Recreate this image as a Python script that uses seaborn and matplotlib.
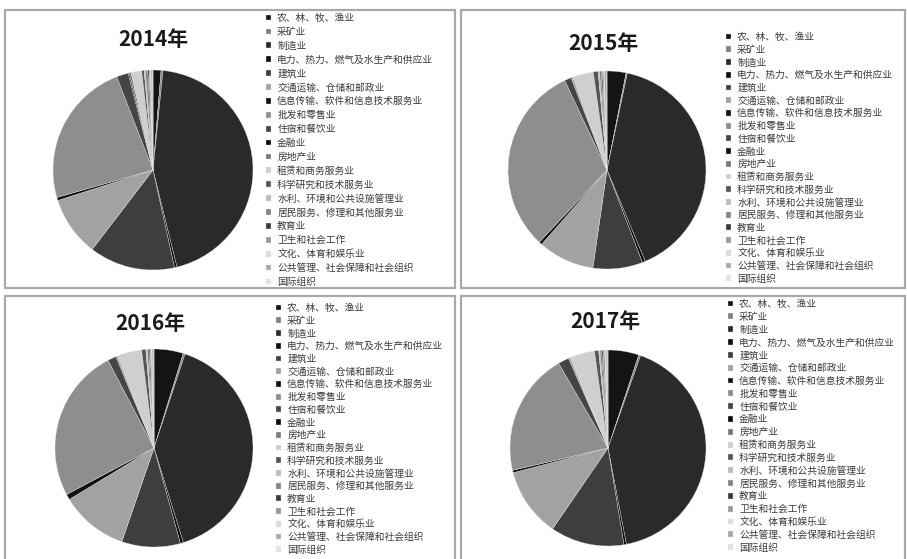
import matplotlib
matplotlib.use("Agg")
import matplotlib.pyplot as plt
from matplotlib.patches import Rectangle
import seaborn as sns

sns.set_theme(style="white")
plt.rcParams['font.family'] = ['Noto Sans CJK SC', 'DejaVu Sans']

# Industry categories (national economy classification)
industries = [
    "农、林、牧、渔业",
    "采矿业",
    "制造业",
    "电力、热力、燃气及水生产和供应业",
    "建筑业",
    "交通运输、仓储和邮政业",
    "信息传输、软件和信息技术服务业",
    "批发和零售业",
    "住宿和餐饮业",
    "金融业",
    "房地产业",
    "租赁和商务服务业",
    "科学研究和技术服务业",
    "水利、环境和公共设施管理业",
    "居民服务、修理和其他服务业",
    "教育业",
    "卫生和社会工作",
    "文化、体育和娱乐业",
    "公共管理、社会保障和社会组织",
    "国际组织",
]

years = ["2014年", "2015年", "2016年", "2017年"]

# Share of each industry (%)
share_2014 = [1.3, 0.3, 44.7, 0.4, 13.9, 9.7, 0.5, 23.6, 1.9, 0.2,
              0.3, 1.7, 0.4, 0.2, 0.4, 0.2, 0.2, 0.1, 0.3, 0.02]
share_2015 = [3.1, 0.2, 40.4, 0.5, 8.1, 9.2, 0.5, 31.0, 1.1, 0.1,
              0.2, 3.4, 0.8, 0.2, 0.3, 0.2, 0.2, 0.1, 0.4, 0.02]
share_2016 = [4.8, 0.3, 40.3, 0.5, 9.6, 11.1, 0.9, 25.2, 1.4, 0.1,
              0.2, 4.0, 0.7, 0.2, 0.3, 0.2, 0.2, 0.1, 0.3, 0.02]
share_2017 = [5.1, 0.3, 41.7, 0.4, 12.2, 11.4, 0.4, 20.3, 1.8, 0.1,
              0.2, 4.1, 0.7, 0.2, 0.3, 0.2, 0.3, 0.2, 0.3, 0.02]

shares = [share_2014, share_2015, share_2016, share_2017]

# Grayscale fill per industry
grays = [
    "#141414", "#808080", "#2a2a2a", "#0e0e0e", "#3e3e3e",
    "#a2a2a2", "#101010", "#8e8e8e", "#454545", "#0c0c0c",
    "#7a7a7a", "#cfcfcf", "#555555", "#bcbcbc", "#858585",
    "#3a3a3a", "#989898", "#dcdcdc", "#a8a8a8", "#e2e2e2",
]
palette = sns.color_palette(grays)

W, H = 907, 559
fig = plt.figure(figsize=(W / 100, H / 100), dpi=100)
fig.patch.set_facecolor("white")

# Panel layout in pixels: box (x0, y0, x1, y1), pie centre & radius,
# title centre, legend top-left and row spacing
panels = [
    dict(box=(5, 10, 455, 288), pie=(153, 170, 101), title=(153, 40), leg=(266, 13), sp=0.40),
    dict(box=(461, 10, 905, 288), pie=(607, 170, 100), title=(603, 43), leg=(726, 32), sp=0.28),
    dict(box=(5, 296, 455, 575), pie=(154, 448, 100), title=(150, 323), leg=(276, 303), sp=0.28),
    dict(box=(461, 296, 905, 575), pie=(608, 448, 99), title=(605, 322), leg=(728, 299), sp=0.29),
]


def fx(px):
    return px / W


def fy(py):
    return 1 - py / H


for year, vals, p in zip(years, shares, panels):
    x0, y0, x1, y1 = p["box"]
    fig.patches.append(Rectangle((fx(x0), fy(y1)), fx(x1 - x0), (y1 - y0) / H,
                                 transform=fig.transFigure, fill=False,
                                 edgecolor="#a9a9a9", linewidth=1.6))

    cx, cy, r = p["pie"]
    ax = fig.add_axes([fx(cx - r), fy(cy + r), 2 * r / W, 2 * r / H])
    wedges, _ = ax.pie(vals, colors=palette, startangle=90, counterclock=False,
                       wedgeprops=dict(linewidth=0.25, edgecolor="#e8e8e8"))
    ax.set_xlim(-1.01, 1.01)
    ax.set_ylim(-1.01, 1.01)
    ax.set_aspect("equal")
    ax.axis("off")

    tx, ty = p["title"]
    fig.text(fx(tx), fy(ty), year, ha="center", va="center",
             fontsize=15, fontweight="bold", color="#1a1a1a")

    lx, ly = p["leg"]
    fig.legend(wedges, industries, loc="upper left",
               bbox_to_anchor=(fx(lx), fy(ly)), bbox_transform=fig.transFigure,
               frameon=False, fontsize=7, handlelength=0.55, handleheight=0.55,
               handletextpad=0.6, labelspacing=p["sp"], borderpad=0, borderaxespad=0,
               labelcolor="#3a3a3a")

fig.savefig("out.png", dpi=100, facecolor="white")
